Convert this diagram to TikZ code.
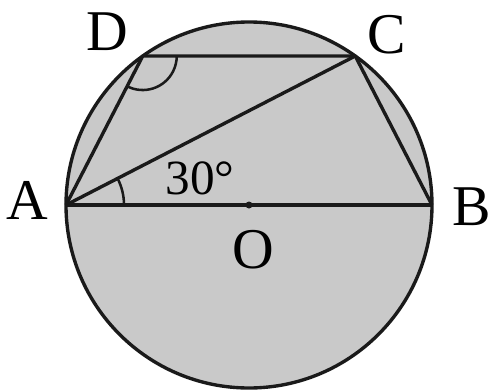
\documentclass[tikz,border=0pt]{standalone}
\usepackage{fontspec}
\setmainfont{Liberation Serif}
\usetikzlibrary{angles,calc}
\definecolor{Disk}{HTML}{C9C9C9}
\definecolor{Ink}{HTML}{1A1A1A}
\tikzset{
  rim/.style={draw=Ink,line width=2.4pt,fill=Disk},
  chord/.style={draw=Ink,line width=2.4pt,line join=round},
  anglemark/.style={draw=Ink,line width=1.8pt},
  ptlab/.style={font=\fontsize{41}{48}\selectfont,inner sep=0pt},
  deglab/.style={font=\fontsize{35}{42}\selectfont,inner sep=0pt}
}

\begin{document}
\begin{tikzpicture}[x=0.025cm,y=0.025cm]
    \useasboundingbox (-249,-185) rectangle (243,205);
    \coordinate (O) at (0,0);
    \coordinate (A) at (180:183); \coordinate (B) at (0:183);
    \coordinate (C) at (54.5:183); \coordinate (D) at (125.5:183);
    \draw[rim] (O) circle[radius=183];
    \draw[chord] (A)--(B);
    \draw[chord] (A)--(D)--(C)--(B);
    \draw[chord] (A)--(C);
    \pic[anglemark,angle radius=1.45cm] {angle=B--A--C};
    \pic[anglemark,angle radius=0.85cm] {angle=A--D--C};
    \fill[Ink] (O) circle[radius=3.5];
    \node[ptlab] (lD) at (-142,173) {D}; \node[ptlab] (lC) at (138,170) {C};
    \node[ptlab] (lA) at (-222,5) {A}; \node[ptlab] (lB) at (223,-2) {B};
    \node[ptlab] (lO) at (4,-45) {O};
    \node[deglab] (ang) at (-49,27) {30°};
  \end{tikzpicture}
\end{document}
